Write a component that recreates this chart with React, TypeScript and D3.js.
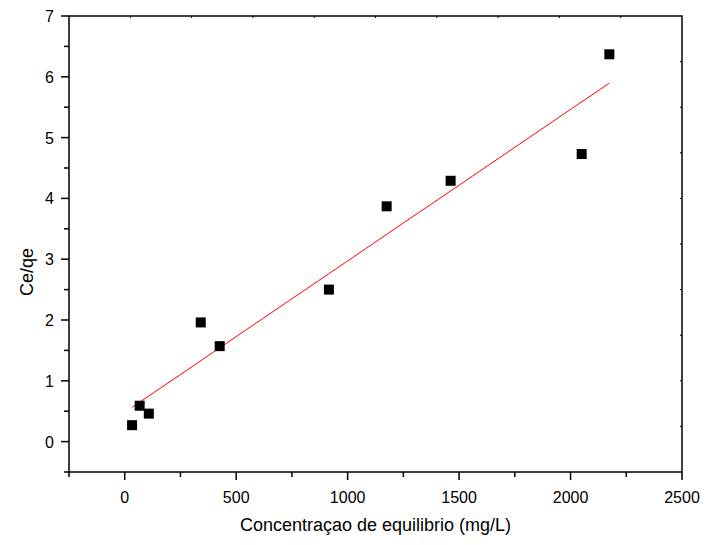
import React from 'react';
import * as d3 from 'd3';

// Ce (mg/L) vs Ce/qe
const ce = [33, 67, 108, 341, 426, 916, 1175, 1462, 2050, 2174];
const ceqe = [0.27, 0.59, 0.46, 1.96, 1.57, 2.5, 3.87, 4.29, 4.73, 6.37];
const xTicks = [0, 500, 1000, 1500, 2000, 2500];
const yTicks = [0, 1, 2, 3, 4, 5, 6, 7];

const W = 705;
const H = 545;
const m = { left: 69, right: 682, top: 16, bottom: 472 };

export default function App() {
  const x = d3.scaleLinear().domain([-250, 2500]).range([m.left, m.right]);
  const y = d3.scaleLinear().domain([-0.5, 7]).range([m.bottom, m.top]);
  // top/right frame ticks (10 even divisions)
  const tx = d3.scaleLinear().domain([0, 10]).range([m.left, m.right]);
  const ty = d3.scaleLinear().domain([0, 10]).range([m.bottom, m.top]);

  // least squares fit
  const mx = d3.mean(ce)!;
  const my = d3.mean(ceqe)!;
  let sxy = 0, sxx = 0;
  for (let i = 0; i < ce.length; i++) {
    sxy += (ce[i] - mx) * (ceqe[i] - my);
    sxx += (ce[i] - mx) * (ce[i] - mx);
  }
  const slope = sxy / sxx;
  const icpt = my - slope * mx;
  const x0 = d3.min(ce)!, x1 = d3.max(ce)!;
  const fitLine = d3.line<number>().x(d => x(d)).y(d => y(icpt + slope * d))([x0, x1]);

  const xMinor = d3.range(-250, 2501, 250);
  const yMinor = d3.range(-0.5, 7.01, 0.5);
  const font = '"Liberation Sans", Arial, sans-serif';

  return (
    <svg width={W} height={H} style={{ position: 'absolute', left: 0, top: 0, background: '#fff' }} fontFamily={font}>
      {/* frame */}
      <rect x={m.left} y={m.top} width={m.right - m.left} height={m.bottom - m.top} fill="none" stroke="#000" strokeWidth={1.5} />
      {/* top & right small inner ticks */}
      {d3.range(1, 10).map(i => (
        <line key={'t' + i} x1={tx(i)} x2={tx(i)} y1={m.top} y2={m.top + 2} stroke="#000" strokeWidth={1} />
      ))}
      {d3.range(1, 10).map(i => (
        <line key={'r' + i} x1={m.right} x2={m.right - 2} y1={ty(i)} y2={ty(i)} stroke="#000" strokeWidth={1} />
      ))}
      {/* bottom ticks */}
      {xMinor.map(v => {
        const major = v % 500 === 0;
        return <line key={'xm' + v} x1={x(v)} x2={x(v)} y1={m.bottom} y2={m.bottom + (major ? 8 : 5)} stroke="#000" strokeWidth={1.5} />;
      })}
      {xTicks.map(v => (
        <text key={'xl' + v} x={x(v)} y={m.bottom + 31} textAnchor="middle" fontSize={16}>{v}</text>
      ))}
      {/* left ticks */}
      {yMinor.map(v => {
        const major = Math.abs(v - Math.round(v)) < 1e-6;
        return <line key={'ym' + v} x1={m.left} x2={m.left - (major ? 8 : 5)} y1={y(v)} y2={y(v)} stroke="#000" strokeWidth={1.5} />;
      })}
      {yTicks.map(v => (
        <text key={'yl' + v} x={m.left - 15} y={y(v) + 6} textAnchor="end" fontSize={16}>{v}</text>
      ))}
      {/* fit */}
      <path d={fitLine!} fill="none" stroke="#ff0000" strokeWidth={1} />
      {/* points */}
      {ce.map((v, i) => (
        <rect key={'p' + i} x={x(v) - 5} y={y(ceqe[i]) - 5} width={10} height={10} fill="#000" />
      ))}
      {/* axis titles */}
      <text x={(m.left + m.right) / 2} y={531} textAnchor="middle" fontSize={18}>Concentraçao de equilibrio (mg/L)</text>
      <text transform={`translate(33,${(m.top + m.bottom) / 2 + 28}) rotate(-90)`} textAnchor="middle" fontSize={18}>Ce/qe</text>
    </svg>
  );
}
